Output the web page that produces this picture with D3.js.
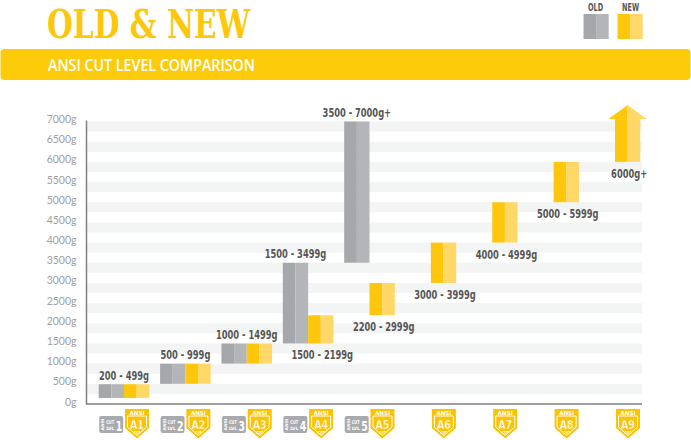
<!DOCTYPE html>
<html>
<head>
<meta charset="utf-8">
<script src="https://cdn.jsdelivr.net/npm/d3@7/dist/d3.min.js"></script>
<style>
  html, body { margin: 0; padding: 0; background: #fff; }
  svg { display: block; }
  .lbl { font-family: "Liberation Sans Narrow", "DejaVu Sans Condensed", "Roboto", sans-serif; font-weight: bold; fill: #555; }
</style>
</head>
<body>
<svg id="chart" width="691" height="440"></svg>
<script>
// cut levels, old ranges (levels 1-5) and new ranges (A1-A9)
var levels = ["1", "2", "3", "4", "5", "6", "7", "8", "9"];
var oldLow = [150, 500, 1000, 1500, 3500];
var oldHigh = [490, 999, 1499, 3499, 7000];
var newLow = [150, 500, 1000, 1500, 2200, 3000, 4000, 5000, 6000];
var newHigh = [490, 999, 1499, 2199, 2999, 3999, 4999, 5999, 7060];
var oldLabels = ["200 - 499g", "500 - 999g", "1000 - 1499g", "1500 - 3499g", "3500 - 7000g+"];
var newLabels = [null, null, null, "1500 - 2199g", "2200 - 2999g", "3000 - 3999g", "4000 - 4999g", "5000 - 5999g", "6000g+"];
var yTicks = d3.range(0, 7001, 500);

var GREY_D = "#a6a7aa", GREY_L = "#b4b5b8";
var YEL_D = "#fec70b", YEL_L = "#ffd867";
var barW = 25.3;
var COND = "'Liberation Sans Narrow','DejaVu Sans Condensed',sans-serif";

var svg = d3.select("#chart");

var y = d3.scaleLinear().domain([0, 7000]).range([404, 121.5]);
// x gives the left edge of the new (yellow) bar for each level
var x = d3.scalePoint().domain(levels).range([124, 615]);

/**
 * squeeze text horizontally, the condensed face is not installed
 */
function squeeze(sel, k){
    sel.each(function(){
        var w = this.getComputedTextLength();
        d3.select(this).attr("textLength", w * k).attr("lengthAdjust", "spacingAndGlyphs");
    });
    return sel;
}

/**
 * header: title, legend, banner
 */
svg.append("text")
    .attr("x", 47).attr("y", 37.5)
    .attr("textLength", 203).attr("lengthAdjust", "spacingAndGlyphs")
    .style("font-family", "'DejaVu Serif Condensed','DejaVu Serif',serif")
    .style("font-weight", "bold").style("font-size", "39px")
    .style("fill", "#fdc70c")
    .text("OLD & NEW");

var legend = [{name: "OLD", x: 583.5, c: [GREY_D, GREY_L]}, {name: "NEW", x: 617.5, c: [YEL_D, YEL_L]}];
legend.forEach(function(d){
    svg.append("rect").attr("x", d.x).attr("y", 14).attr("width", 12.6).attr("height", 25).attr("fill", d.c[0]);
    svg.append("rect").attr("x", d.x + 12.6).attr("y", 14).attr("width", 12.6).attr("height", 25).attr("fill", d.c[1]);
    squeeze(svg.append("text").classed("lbl", true)
        .attr("x", d.x + 12.6 - 8).attr("y", 10.5)
        .style("font-size", "10px")
        .text(d.name), 0.72);
});

svg.append("rect")
    .attr("x", 0.5).attr("y", 49).attr("width", 690).attr("height", 31).attr("rx", 4)
    .attr("fill", "#fecb0a");
svg.append("text")
    .attr("x", 48).attr("y", 70.5)
    .attr("textLength", 207).attr("lengthAdjust", "spacingAndGlyphs")
    .style("font-family", "'Open Sans',sans-serif").style("font-weight", 600).style("font-size", "15.5px")
    .style("fill", "#fff")
    .text("ANSI CUT LEVEL COMPARISON");

/**
 * background stripes and axes
 */
svg.append("g").selectAll("rect")
    .data(d3.range(250, 7000, 500))
    .enter().append("rect")
    .attr("x", 87).attr("width", 555)
    .attr("y", function(d){ return y(d + 250); })
    .attr("height", function(d){ return y(d) - y(d + 250); })
    .attr("fill", "#f3f4f4");

svg.append("g").selectAll("text")
    .data(yTicks)
    .enter().append("text")
    .attr("x", 76.5).attr("y", function(d){ return y(d) + 1.5; })
    .attr("text-anchor", "end")
    .style("font-family", "Lato,'Open Sans',sans-serif").style("font-weight", 400).style("font-size", "10.5px")
    .style("fill", "#a0a0a0")
    .text(function(d){ return d + "g"; });

svg.append("path")
    .attr("d", "M86.5," + (y(7000) - 1) + "V" + y(0) + "H642")
    .attr("fill", "none").attr("stroke", "#808080").attr("stroke-width", 1.5);

/**
 * draws a two tone bar
 */
function twoTone(g, x0, top, bottom, c){
    g.append("rect").attr("x", x0).attr("y", top).attr("width", barW / 2).attr("height", bottom - top).attr("fill", c[0]);
    g.append("rect").attr("x", x0 + barW / 2).attr("y", top).attr("width", barW / 2).attr("height", bottom - top).attr("fill", c[1]);
}

var bars = svg.append("g");
levels.forEach(function(lv, i){
    var nx = x(lv);
    if(i < oldLow.length){
        twoTone(bars, nx - barW, y(oldHigh[i]), y(oldLow[i]), [GREY_D, GREY_L]);
    }
    if(lv === "9"){
        // arrow for the open-ended top level
        var top = y(newHigh[i]), cx = nx + barW / 2;
        twoTone(bars, nx, top, y(newLow[i]), [YEL_D, YEL_L]);
        bars.append("path").attr("d", "M" + (nx - 6.5) + "," + top + "L" + cx + "," + (top - 14) + "L" + cx + "," + top + "Z").attr("fill", YEL_D);
        bars.append("path").attr("d", "M" + cx + "," + top + "L" + cx + "," + (top - 14) + "L" + (nx + barW + 6.5) + "," + top + "Z").attr("fill", YEL_L);
    }else{
        twoTone(bars, nx, y(newHigh[i]), y(newLow[i]), [YEL_D, YEL_L]);
    }
});

/**
 * range labels, centred by hand after squeezing
 */
var labels = svg.append("g");
function rangeLabel(t, cx, ty){
    var el = labels.append("text").classed("lbl", true)
        .attr("x", cx).attr("y", ty)
        .style("font-size", "12.5px")
        .text(t);
    var w = el.node().getComputedTextLength() * 0.74;
    el.attr("x", cx - w / 2).attr("textLength", w).attr("lengthAdjust", "spacingAndGlyphs");
}
oldLabels.forEach(function(t, i){
    var lv = levels[i];
    var same = newLabels[i] === null;
    rangeLabel(t, same ? x(lv) : x(lv) - barW / 2, y(oldHigh[i]) - 4.5);
});
newLabels.forEach(function(t, i){
    if(!t) return;
    rangeLabel(t, x(levels[i]) + barW / 2 + 1.5, y(newLow[i]) + 16);
});

/**
 * level icons under the axis
 */
var icons = svg.append("g");
function iconText(g, t, tx, ty, size, len, anchor){
    return g.append("text").attr("x", tx).attr("y", ty)
        .attr("text-anchor", anchor || "start")
        .attr("textLength", len).attr("lengthAdjust", "spacingAndGlyphs")
        .style("font-family", COND).style("font-weight", "bold").style("font-size", size + "px")
        .style("fill", "#fff").text(t);
}
levels.forEach(function(lv, i){
    var nx = x(lv);
    if(i < oldLow.length){
        var ox = nx - barW + 0.5;
        var g = icons.append("g").attr("transform", "translate(" + ox + ",416)");
        g.append("rect").attr("width", 24).attr("height", 17).attr("rx", 2).attr("fill", "#a9aaad");
        // rotated "ANSI" drawn as a sideways word inside its own group
        g.append("g").attr("transform", "translate(5,14.5) rotate(-90)")
            .append("text").attr("textLength", 12).attr("lengthAdjust", "spacingAndGlyphs")
            .style("font-family", COND).style("font-weight", "bold").style("font-size", "4px")
            .style("fill", "#fff").text("ANSI");
        iconText(g, "CUT", 7, 7.5, 5, 8);
        iconText(g, "LVL", 7, 14, 4.5, 8);
        iconText(g, lv, 16.5, 14.8, 14, 6.5);
    }
    var b = icons.append("g").attr("transform", "translate(" + (nx + 1) + ",409)");
    b.append("path").attr("d", "M0,0H24V19L12,29.5L0,19Z").attr("fill", "#fdc300");
    b.append("path").attr("d", "M2.5,7H21.5V18L12,26.5L2.5,18Z").attr("fill", "none").attr("stroke", "#fff").attr("stroke-width", 1);
    iconText(b, "ANSI", 12, 5.5, 5.5, 15, "middle");
    iconText(b, "A" + lv, 12, 19.5, 13, 14, "middle")
        .style("stroke", "#fdc300").style("stroke-width", 0.4);
    iconText(b, "CUT", 12, 25, 4, 7, "middle");
});
</script>
</body>
</html>
